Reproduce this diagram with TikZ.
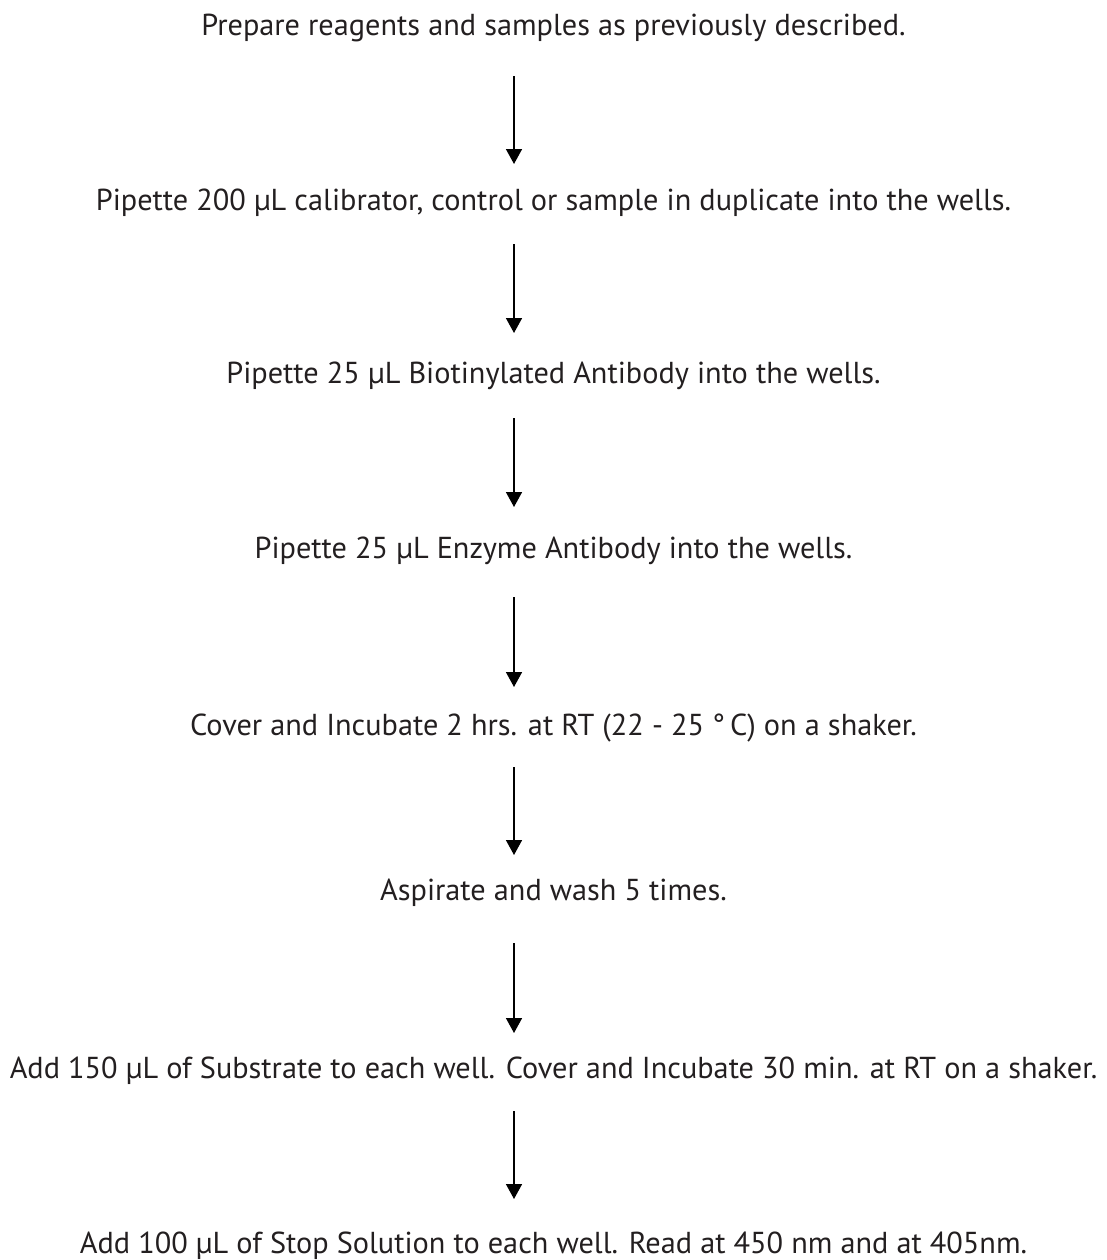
\documentclass[tikz,border=0pt]{standalone}
\usepackage{fontspec}
\setmainfont{PT Sans}
\usetikzlibrary{arrows.meta,calc}
\definecolor{steptext}{RGB}{35,31,32}
\tikzset{
  stepline/.style={anchor=base,inner sep=0pt,text=steptext,font=\fontsize{30.3bp}{36bp}\selectfont},
  flow/.style={-{Triangle[width=16bp,length=15bp]},line width=1.6bp}
}
\begin{document}
\begin{tikzpicture}
\useasboundingbox (0,0) rectangle (1107bp,-1260bp);
\coordinate (axis) at (514bp,0);

\node[stepline] (s1) at (553.5bp,-35bp) {Prepare reagents and samples as previously described.};
\node[stepline] (s2) at (553.5bp,-210bp) {Pipette 200 µL calibrator, control or sample in duplicate into the wells.};
\node[stepline] (s3) at (553.5bp,-383bp) {Pipette 25 µL Biotinylated Antibody into the wells.};
\node[stepline] (s4) at (553.5bp,-558bp) {Pipette 25 µL Enzyme Antibody into the wells.};
\node[stepline] (s5) at (553.5bp,-735bp) {Cover and Incubate 2 hrs. at RT (22 - 25 °\,C) on a shaker.};
\node[stepline] (s6) at (553.5bp,-900bp) {Aspirate and wash 5 times.};
\node[stepline] (s7) at (553.5bp,-1078bp) {Add 150 µL of Substrate to each well. Cover and Incubate 30 min. at RT on a shaker.};
\node[stepline] (s8) at (553.5bp,-1253bp) {Add 100 µL of Stop Solution to each well. Read at 450 nm and at 405nm.};

\draw[flow] ($(s1.base -| axis)+(0,-41bp)$) -- ($(s2.base -| axis)+(0,46bp)$);
\draw[flow] ($(s2.base -| axis)+(0,-34bp)$) -- ($(s3.base -| axis)+(0,50bp)$);
\draw[flow] ($(s3.base -| axis)+(0,-35bp)$) -- ($(s4.base -| axis)+(0,51bp)$);
\draw[flow] ($(s4.base -| axis)+(0,-39bp)$) -- ($(s5.base -| axis)+(0,48bp)$);
\draw[flow] ($(s5.base -| axis)+(0,-32bp)$) -- ($(s6.base -| axis)+(0,45bp)$);
\draw[flow] ($(s6.base -| axis)+(0,-43bp)$) -- ($(s7.base -| axis)+(0,45bp)$);
\draw[flow] ($(s7.base -| axis)+(0,-33bp)$) -- ($(s8.base -| axis)+(0,54bp)$);
\end{tikzpicture}
\end{document}
